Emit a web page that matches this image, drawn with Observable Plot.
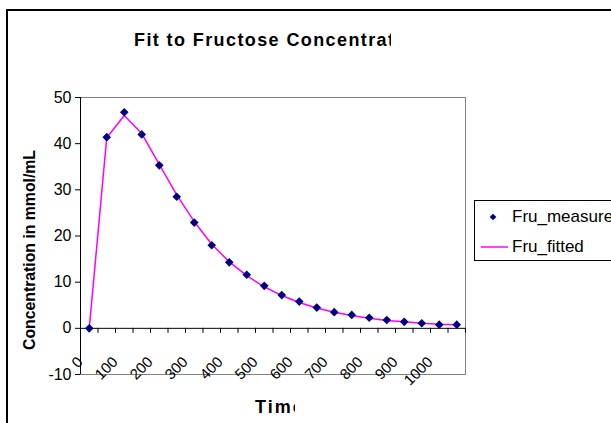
<!DOCTYPE html>
<html>
<head>
<meta charset="utf-8">
<script src="https://cdn.jsdelivr.net/npm/d3@7"></script>
<script src="https://cdn.jsdelivr.net/npm/@observablehq/plot@0.6"></script>
<style>
  html, body { margin: 0; padding: 0; background: #fff; }
  #chart { position: relative; width: 611px; height: 423px; overflow: hidden; background: #fff; }
  #chart > svg { position: absolute; left: 0; top: 0; }
  text { font-family: "Liberation Sans", Arial, sans-serif; }
</style>
</head>
<body>
<div id="chart"></div>
<script>
// Sampling times (categories) and concentrations
const times = [0, 50, 100, 150, 200, 250, 300, 350, 400, 450, 500, 550, 600, 650, 700, 750, 800, 850, 900, 950, 1000, 1050];
const measured = [0, 41.4, 46.8, 42.0, 35.3, 28.5, 22.9, 18.0, 14.3, 11.6, 9.2, 7.2, 5.8, 4.5, 3.5, 2.9, 2.3, 1.8, 1.4, 1.1, 0.8, 0.8];
const fitted = [0, 41.3, 46.1, 42.2, 35.5, 28.9, 23.1, 18.2, 14.4, 11.4, 9.0, 7.1, 5.6, 4.4, 3.5, 2.8, 2.2, 1.7, 1.4, 1.1, 0.9, 0.8];
const yTicks = [-10, 0, 10, 20, 30, 40, 50];
const xTickLabels = [0, 100, 200, 300, 400, 500, 600, 700, 800, 900, 1000];

const titleText = "Fit to Fructose Concentration";
const xTitle = "Time";
const yTitle = "Concentration in mmol/mL";
const seriesNames = ["Fru_measured", "Fru_fitted"];

const W = 611, H = 423;
const margin = {top: 97, right: 146, bottom: 49, left: 80};
const step = times[1] - times[0];
const xDomain = [times[0] - step / 2, times[times.length - 1] + step / 2];
const yDomain = [yTicks[0], yTicks[yTicks.length - 1]];
const innerH = H - margin.top - margin.bottom;
// category boundaries carry the little tick marks under the zero line
const bounds = d3.range(times.length + 1).map(i => xDomain[0] + i * step);
const tickLen = 5 * (yDomain[1] - yDomain[0]) / innerH;

const rows = times.map((t, i) => ({t, measured: measured[i], fitted: fitted[i]}));

const plot = Plot.plot({
  width: W,
  height: H,
  marginTop: margin.top,
  marginRight: margin.right,
  marginBottom: margin.bottom,
  marginLeft: margin.left,
  x: {domain: xDomain, axis: null},
  y: {domain: yDomain, axis: null},
  style: {fontFamily: "'Liberation Sans', Arial, sans-serif", background: "transparent", color: "#000", overflow: "visible"},
  marks: [
    Plot.frame({stroke: "#808080"}),
    Plot.ruleY([0], {stroke: "#000"}),
    Plot.ruleX(bounds, {x: d => d, y1: 0, y2: -tickLen, stroke: "#000"}),
    Plot.ruleX([xDomain[0]], {stroke: "#000"}),
    Plot.axisY({ticks: yTicks, anchor: "left", tickSize: 5, tickPadding: 4, fontSize: 16, label: null, tickFormat: d => String(d)}),
    Plot.text(xTickLabels, {x: d => d, y: 0, text: d => String(d), rotate: -45, textAnchor: "end", dx: -9, dy: 31, fontSize: 15, fill: "#000"}),
    Plot.line(rows, {x: "t", y: "fitted", stroke: "#ff00ff", strokeWidth: 1.5}),
    Plot.dot(rows, {x: "t", y: "measured", symbol: "diamond2", r: 3.9, fill: "#000080", stroke: "none"})
  ]
});

const chart = document.getElementById("chart");
chart.appendChild(plot);

// Chart border, titles and legend
const ns = "http://www.w3.org/2000/svg";
const svg = d3.select(chart).append("svg")
  .attr("xmlns", ns)
  .attr("width", W).attr("height", H)
  .style("pointer-events", "none");

const defs = svg.append("defs");
defs.append("clipPath").attr("id", "clip-title")
  .append("rect").attr("x", 0).attr("y", 0).attr("width", 391).attr("height", 80);
defs.append("clipPath").attr("id", "clip-xtitle")
  .append("rect").attr("x", 0).attr("y", 380).attr("width", 295).attr("height", 43);

svg.append("rect")
  .attr("x", 7).attr("y", 10).attr("width", 800).attr("height", 600)
  .attr("fill", "none").attr("stroke", "#000").attr("stroke-width", 2);

svg.append("text")
  .attr("clip-path", "url(#clip-title)")
  .attr("x", 134).attr("y", 46)
  .attr("font-size", 18).attr("font-weight", "bold")
  .attr("letter-spacing", 1.4)
  .text(titleText);

svg.append("text")
  .attr("clip-path", "url(#clip-xtitle)")
  .attr("x", 255).attr("y", 413)
  .attr("font-size", 18).attr("font-weight", "bold")
  .attr("letter-spacing", 2)
  .text(xTitle);

svg.append("text")
  .attr("transform", "translate(35,250) rotate(-90)")
  .attr("text-anchor", "middle")
  .attr("font-size", 16).attr("font-weight", "bold")
  .attr("textLength", 200).attr("lengthAdjust", "spacingAndGlyphs")
  .text(yTitle);

const lg = svg.append("g");
lg.append("rect")
  .attr("x", 474.5).attr("y", 200.5).attr("width", 300).attr("height", 60)
  .attr("fill", "#fff").attr("stroke", "#000").attr("stroke-width", 1);
lg.append("path")
  .attr("d", d3.symbol(d3.symbolDiamond2, 28)())
  .attr("transform", "translate(493,217)")
  .attr("fill", "#000080");
lg.append("line")
  .attr("x1", 481).attr("x2", 508).attr("y1", 247).attr("y2", 247)
  .attr("stroke", "#ff00ff").attr("stroke-width", 1.5);
lg.append("text").attr("x", 512).attr("y", 222).attr("font-size", 17).text(seriesNames[0]);
lg.append("text").attr("x", 512).attr("y", 252).attr("font-size", 17).text(seriesNames[1]);
</script>
</body>
</html>
